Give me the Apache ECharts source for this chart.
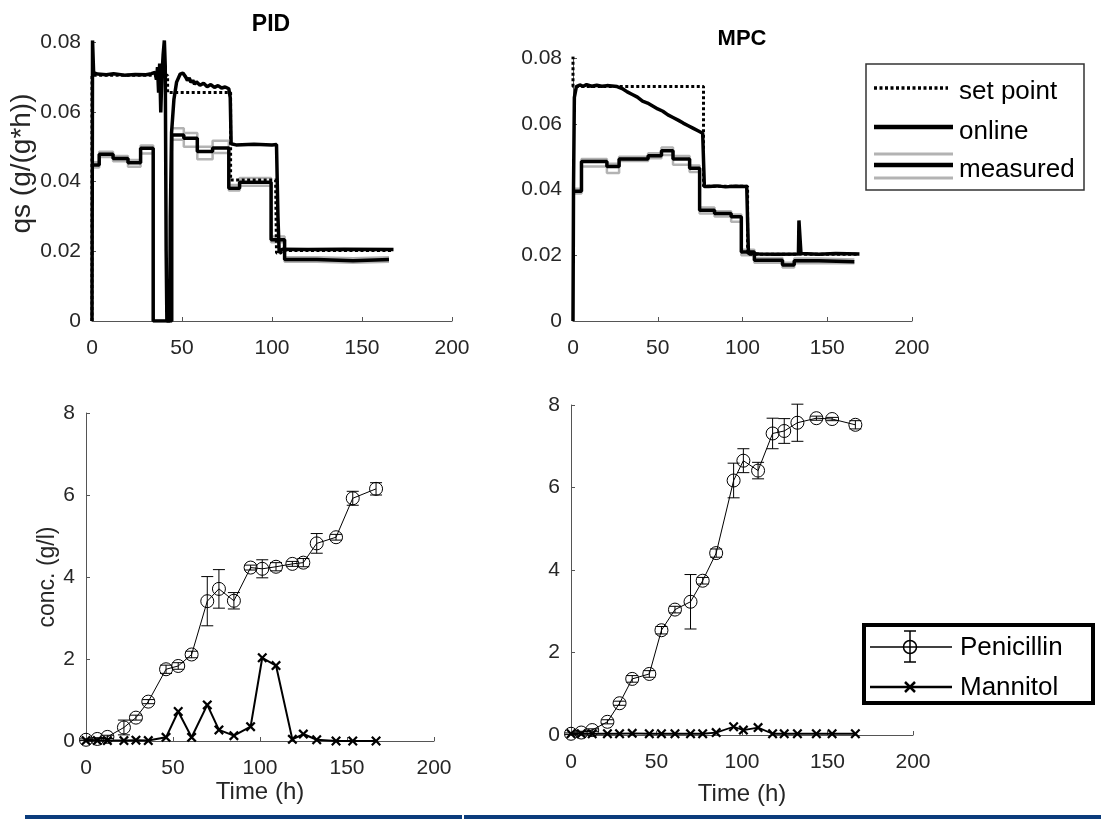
<!DOCTYPE html>
<html>
<head>
<meta charset="utf-8">
<script src="https://cdn.jsdelivr.net/npm/echarts@6/dist/echarts.min.js"></script>
<style>
  html, body { margin: 0; padding: 0; background: #fff; }
  #chart { width: 1101px; height: 819px; }
</style>
</head>
<body>
<div id="chart"></div>
<script>
// ---- top row: specific substrate uptake rate qs, [time h, value] ----
var pidSetPoint = [[0, 0], [0, 0.0705], [42, 0.0705], [42, 0.0655], [77, 0.0655], [77, 0.0404], [102, 0.0404], [102.5, 0.0195], [105, 0.0195], [105.5, 0.0202], [167, 0.0202]];
var pidOnline = [[0, 0], [0.3, 0.0805], [0.9, 0.0712], [3, 0.0708], [8, 0.0706], [12, 0.0709], [18, 0.0705], [24, 0.0707], [30, 0.0706], [33, 0.0709], [35, 0.0713], [35.8, 0.0692], [36.4, 0.0728], [37, 0.0655], [37.6, 0.0738], [38.2, 0.0598], [38.8, 0.0700], [39.5, 0.0762], [40.2, 0.0805], [40.7, 0.0730], [41.2, 0.0200], [41.6, 0], [43.2, 0], [43.5, 0.030], [44.2, 0.054], [45.5, 0.0635], [47, 0.0685], [49, 0.0708], [50.5, 0.0711], [52, 0.0700], [53, 0.0690], [54, 0.0697], [55, 0.0684], [56, 0.0690], [57, 0.0679], [58, 0.0686], [60, 0.0676], [62, 0.0682], [64, 0.0672], [66, 0.0678], [68, 0.0670], [70, 0.0675], [72, 0.0668], [74, 0.0671], [76, 0.0666], [76.8, 0.0640], [77.3, 0.0508], [80, 0.0505], [90, 0.0507], [100, 0.0505], [102.5, 0.0506], [103.3, 0.0300], [104, 0.0195], [105, 0.0190], [105.8, 0.0206], [120, 0.0205], [140, 0.0206], [167.5, 0.0205]];
var pidMeasured = [[0, 0.0447], [4, 0.0478], [11.7, 0.0466], [20, 0.0454], [27, 0.0495], [34, 0], [44.3, 0.0533], [51, 0.0524], [58.5, 0.0486], [67, 0.0496], [76, 0.0381], [82, 0.0398], [99.5, 0.0233], [107, 0.0176], [125, 0.0173], [145, 0.0176], [165, 0.0176]];
var pidMeasuredHi = [[0, 0.0455], [4, 0.0485], [11.7, 0.0473], [20, 0.0462], [27, 0.0503], [34, 0], [44.3, 0.0553], [51, 0.0539], [58.5, 0.0500], [67, 0.0517], [76, 0.0390], [82, 0.0410], [99.5, 0.0242], [107, 0.0183], [125, 0.0180], [145, 0.0183], [165, 0.0183]];
var pidMeasuredLo = [[0, 0.0440], [4, 0.0470], [11.7, 0.0458], [20, 0.0442], [27, 0.0480], [34, 0], [44.3, 0.0520], [51, 0.0500], [58.5, 0.0464], [67, 0.0482], [76, 0.0374], [82, 0.0388], [99.5, 0.0226], [107, 0.0170], [125, 0.0167], [145, 0.0170], [165, 0.0170]];

var mpcSetPoint = [[0, 0.0805], [0, 0.0713], [77, 0.0713], [77, 0.0410], [103, 0.0410], [103, 0.0203], [168, 0.0203]];
var mpcOnline = [[0, 0], [0.3, 0.040], [0.8, 0.068], [2, 0.0713], [4, 0.0718], [6, 0.0714], [8, 0.0719], [11, 0.0714], [14, 0.0717], [17, 0.0714], [20, 0.0716], [23, 0.0715], [26, 0.0713], [29, 0.0707], [32, 0.0697], [35, 0.0689], [38, 0.0681], [41, 0.0669], [44, 0.0663], [47, 0.0654], [50, 0.0645], [53, 0.0638], [56, 0.0627], [59, 0.0619], [62, 0.0611], [65, 0.0602], [68, 0.0594], [71, 0.0586], [74, 0.0578], [76.5, 0.0571], [77, 0.0565], [77.5, 0.0409], [80, 0.0409], [85, 0.0411], [90, 0.0408], [95, 0.0410], [102.5, 0.0409], [103.5, 0.0205], [110, 0.0204], [120, 0.0203], [133, 0.0204], [133.3, 0.0306], [134, 0.0300], [134.5, 0.0205], [145, 0.0203], [155, 0.0205], [169, 0.0204]];
var mpcMeasured = [[0, 0.0395], [5, 0.0485], [20, 0.0470], [27.2, 0.0493], [44.3, 0.0503], [52.2, 0.0518], [59, 0.0493], [68.8, 0.0465], [74.7, 0.0337], [83.5, 0.0327], [93.3, 0.0317], [99.3, 0.0210], [107, 0.0185], [123.6, 0.0170], [130.5, 0.0183], [145, 0.0180], [166, 0.0180]];
var mpcMeasuredHi = [[0, 0.0402], [5, 0.0493], [20, 0.0478], [27.2, 0.0500], [44.3, 0.0510], [52.2, 0.0528], [59, 0.0502], [68.8, 0.0473], [74.7, 0.0345], [83.5, 0.0334], [93.3, 0.0324], [99.3, 0.0217], [107, 0.0192], [123.6, 0.0177], [130.5, 0.0190], [145, 0.0187], [166, 0.0187]];
var mpcMeasuredLo = [[0, 0.0388], [5, 0.0470], [20, 0.0450], [27.2, 0.0487], [44.3, 0.0495], [52.2, 0.0505], [59, 0.0475], [68.8, 0.0453], [74.7, 0.0327], [83.5, 0.0318], [93.3, 0.0302], [99.3, 0.0200], [107, 0.0177], [123.6, 0.0163], [130.5, 0.0176], [145, 0.0176], [166, 0.0176]];

// ---- bottom row: concentrations (g/l) ----
var pidTime = [0, 6.5, 12.3, 21.8, 28.7, 35.8, 46, 53, 60.7, 69.7, 76.4, 85, 94.6, 101.3, 109.2, 118.6, 124.9, 132.6, 143.7, 153.3, 166.7];
var pidPenicillin = [0.03, 0.05, 0.1, 0.33, 0.57, 0.96, 1.75, 1.83, 2.11, 3.41, 3.71, 3.42, 4.23, 4.2, 4.25, 4.32, 4.35, 4.82, 4.97, 5.92, 6.15];
var pidPenicillinErr = [0.02, 0.03, 0.04, 0.18, 0.06, 0.05, 0.1, 0.08, 0.08, 0.6, 0.47, 0.2, 0.06, 0.22, 0.1, 0.06, 0.1, 0.24, 0.07, 0.17, 0.15];
var pidMannitol = [0.01, 0.01, 0.01, 0.01, 0.02, 0.01, 0.09, 0.72, 0.09, 0.88, 0.27, 0.13, 0.35, 2.03, 1.84, 0.04, 0.17, 0.03, 0.0, 0.0, 0.0];

var mpcTime = [0, 6, 12.4, 21.3, 28.4, 35.8, 45.8, 52.9, 60.8, 69.9, 77, 84.9, 95.1, 100.8, 109.4, 117.9, 124.7, 132.4, 143.5, 152.7, 166.3];
var mpcPenicillin = [0.03, 0.06, 0.12, 0.32, 0.77, 1.36, 1.48, 2.54, 3.04, 3.23, 3.74, 4.41, 6.17, 6.65, 6.41, 7.31, 7.37, 7.57, 7.68, 7.66, 7.52];
var mpcPenicillinErr = [0.02, 0.03, 0.03, 0.05, 0.05, 0.08, 0.08, 0.09, 0.08, 0.66, 0.08, 0.1, 0.42, 0.29, 0.2, 0.37, 0.3, 0.45, 0.05, 0.04, 0.1];
var mpcMannitol = [0.03, 0.03, 0.03, 0.03, 0.03, 0.04, 0.03, 0.03, 0.03, 0.03, 0.03, 0.06, 0.2, 0.12, 0.18, 0.03, 0.03, 0.03, 0.03, 0.03, 0.03];

var timeTicks = [0, 50, 100, 150, 200];

var FONT = 'Liberation Sans, Arial, sans-serif';
var TXT = '#262626';
var AX = '#555';
var CROSS = 'path://M0,1.6L1.6,0L5,3.4L8.4,0L10,1.6L6.6,5L10,8.4L8.4,10L5,6.6L1.6,10L0,8.4L3.4,5Z';

function xAx(grid, name, gap) {
  return {
    type: 'value', gridIndex: grid, min: timeTicks[0], max: timeTicks[timeTicks.length - 1], interval: 50,
    name: name || '', nameLocation: 'middle', nameGap: gap || 36,
    nameTextStyle: { color: TXT, fontFamily: FONT, fontSize: 24 },
    axisLine: { lineStyle: { color: AX, width: 1 } },
    axisTick: { inside: true, length: 4, lineStyle: { color: AX } },
    axisLabel: { color: TXT, fontFamily: FONT, fontSize: 21, margin: 17 },
    splitLine: { show: false }
  };
}
function yAx(grid, max, step, name, gap, size, pad) {
  return {
    type: 'value', gridIndex: grid, min: 0, max: max, interval: step,
    name: name || '', nameLocation: 'middle', nameGap: gap || 30,
    nameTextStyle: { color: TXT, fontFamily: FONT, fontSize: size || 22, padding: pad || 0 },
    axisLine: { show: true, lineStyle: { color: AX, width: 1 } },
    axisTick: { show: true, inside: true, length: 4, lineStyle: { color: AX } },
    axisLabel: { color: TXT, fontFamily: FONT, fontSize: 21, margin: 11 },
    splitLine: { show: false }
  };
}
function stepLine(i, data, color, width, z) {
  return { type: 'line', xAxisIndex: i, yAxisIndex: i, data: data, step: 'end', showSymbol: false,
    lineStyle: { color: color, width: width }, z: z, animation: false };
}
function plainLine(i, data, color, width, z, dash) {
  return { type: 'line', xAxisIndex: i, yAxisIndex: i, data: data, showSymbol: false,
    lineStyle: { color: color, width: width, type: dash || 'solid' }, z: z, animation: false };
}
function pairs(xs, ys) {
  return xs.map(function (x, k) { return [x, ys[k]]; });
}
function errRows(xs, ys, es) {
  return xs.map(function (x, k) { return [x, ys[k] - es[k], ys[k] + es[k]]; });
}
function errorBarItem(params, api) {
  var lo = api.coord([api.value(0), api.value(1)]);
  var hi = api.coord([api.value(0), api.value(2)]);
  var w = 6, st = { stroke: '#000', lineWidth: 1 };
  return { type: 'group', children: [
    { type: 'line', shape: { x1: hi[0], y1: hi[1], x2: lo[0], y2: lo[1] }, style: st },
    { type: 'line', shape: { x1: hi[0] - w, y1: hi[1], x2: hi[0] + w, y2: hi[1] }, style: st },
    { type: 'line', shape: { x1: lo[0] - w, y1: lo[1], x2: lo[0] + w, y2: lo[1] }, style: st }
  ] };
}
function concSeries(i, xs, pen, err, man, manWidth) {
  return [
    { type: 'custom', xAxisIndex: i, yAxisIndex: i, renderItem: errorBarItem,
      encode: { x: 0, y: [1, 2] }, data: errRows(xs, pen, err), z: 3, animation: false },
    { type: 'line', xAxisIndex: i, yAxisIndex: i, data: pairs(xs, pen), symbol: 'circle', symbolSize: 13,
      itemStyle: { color: 'rgba(0,0,0,0)', borderColor: '#000', borderWidth: 1 },
      lineStyle: { color: '#000', width: 1 }, z: 4, animation: false },
    { type: 'line', xAxisIndex: i, yAxisIndex: i, data: pairs(xs, man), symbol: CROSS, symbolSize: 10,
      itemStyle: { color: '#000' }, lineStyle: { color: '#000', width: manWidth }, z: 5, animation: false }
  ];
}

var chart = echarts.init(document.getElementById('chart'));
var option = {
  backgroundColor: '#fff',
  animation: false,
  grid: [
    { left: 92, right: 649, top: 42, bottom: 498 },
    { left: 573, right: 189, top: 58, bottom: 498 },
    { left: 86, right: 667, top: 413, bottom: 78 },
    { left: 571, right: 188, top: 405, bottom: 84 }
  ],
  xAxis: [xAx(0), xAx(1), xAx(2, 'Time (h)', 39), xAx(3, 'Time (h)', 47)],
  yAxis: [
    yAx(0, 0.08, 0.02, 'qs (g/(g*h))', 54, 28, [0, 0, 0, 36]),
    yAx(1, 0.08, 0.02),
    yAx(2, 8, 2, 'conc. (g/l)', 23, 23),
    yAx(3, 8, 2)
  ],
  series: [
    stepLine(0, pidMeasuredHi, '#b3b3b3', 2.5, 1),
    stepLine(0, pidMeasuredLo, '#b3b3b3', 2.5, 1),
    stepLine(0, pidMeasured, '#000', 3.5, 2),
    plainLine(0, pidSetPoint, '#000', 3, 3, [3, 2.5]),
    plainLine(0, pidOnline, '#000', 3.5, 4),
    stepLine(1, mpcMeasuredHi, '#b3b3b3', 2.5, 1),
    stepLine(1, mpcMeasuredLo, '#b3b3b3', 2.5, 1),
    stepLine(1, mpcMeasured, '#000', 3.5, 2),
    plainLine(1, mpcSetPoint, '#000', 3, 3, [3, 2.5]),
    plainLine(1, mpcOnline, '#000', 3.5, 4)
  ].concat(concSeries(2, pidTime, pidPenicillin, pidPenicillinErr, pidMannitol, 2))
   .concat(concSeries(3, mpcTime, mpcPenicillin, mpcPenicillinErr, mpcMannitol, 1.8)),
  graphic: [
    { type: 'text', x: 271, y: 25, style: { text: 'PID', fill: '#000', font: 'bold 23px ' + FONT, align: 'center', verticalAlign: 'middle' } },
    { type: 'text', x: 742, y: 39, style: { text: 'MPC', fill: '#000', font: 'bold 22px ' + FONT, align: 'center', verticalAlign: 'middle' } },
    // legend top right
    { type: 'rect', shape: { x: 866, y: 64, width: 218, height: 126 }, style: { fill: '#fff', stroke: '#333', lineWidth: 1.5 }, z: 20 },
    { type: 'line', shape: { x1: 874, y1: 88, x2: 948, y2: 88 }, style: { stroke: '#000', lineWidth: 3.5, lineDash: [3, 2.5] }, z: 21 },
    { type: 'text', x: 959, y: 92, style: { text: 'set point', fill: '#000', font: '26px ' + FONT, verticalAlign: 'middle' }, z: 21 },
    { type: 'line', shape: { x1: 874, y1: 127, x2: 953, y2: 127 }, style: { stroke: '#000', lineWidth: 4.5 }, z: 21 },
    { type: 'text', x: 959, y: 132, style: { text: 'online', fill: '#000', font: '26px ' + FONT, verticalAlign: 'middle' }, z: 21 },
    { type: 'line', shape: { x1: 874, y1: 154, x2: 953, y2: 154 }, style: { stroke: '#b3b3b3', lineWidth: 3 }, z: 21 },
    { type: 'line', shape: { x1: 874, y1: 165, x2: 953, y2: 165 }, style: { stroke: '#000', lineWidth: 4.5 }, z: 21 },
    { type: 'line', shape: { x1: 874, y1: 178, x2: 953, y2: 178 }, style: { stroke: '#b3b3b3', lineWidth: 3 }, z: 21 },
    { type: 'text', x: 959, y: 170, style: { text: 'measured', fill: '#000', font: '26px ' + FONT, verticalAlign: 'middle' }, z: 21 },
    // legend bottom right
    { type: 'rect', shape: { x: 864, y: 625, width: 229, height: 78 }, style: { fill: '#fff', stroke: '#000', lineWidth: 4 }, z: 20 },
    { type: 'line', shape: { x1: 870, y1: 647, x2: 952, y2: 647 }, style: { stroke: '#000', lineWidth: 1.5 }, z: 21 },
    { type: 'line', shape: { x1: 910, y1: 631, x2: 910, y2: 662 }, style: { stroke: '#000', lineWidth: 1.5 }, z: 21 },
    { type: 'line', shape: { x1: 904, y1: 631, x2: 916, y2: 631 }, style: { stroke: '#000', lineWidth: 1.5 }, z: 21 },
    { type: 'line', shape: { x1: 904, y1: 662, x2: 916, y2: 662 }, style: { stroke: '#000', lineWidth: 1.5 }, z: 21 },
    { type: 'circle', shape: { cx: 910, cy: 647, r: 6.5 }, style: { fill: 'none', stroke: '#000', lineWidth: 1.5 }, z: 21 },
    { type: 'text', x: 960, y: 648, style: { text: 'Penicillin', fill: '#000', font: '26px ' + FONT, verticalAlign: 'middle' }, z: 21 },
    { type: 'line', shape: { x1: 870, y1: 687, x2: 952, y2: 687 }, style: { stroke: '#000', lineWidth: 2.5 }, z: 21 },
    { type: 'line', shape: { x1: 905, y1: 682, x2: 915, y2: 692 }, style: { stroke: '#000', lineWidth: 2.5 }, z: 21 },
    { type: 'line', shape: { x1: 915, y1: 682, x2: 905, y2: 692 }, style: { stroke: '#000', lineWidth: 2.5 }, z: 21 },
    { type: 'text', x: 960, y: 688, style: { text: 'Mannitol', fill: '#000', font: '26px ' + FONT, verticalAlign: 'middle' }, z: 21 },
    // blue strip along the bottom edge
    { type: 'rect', shape: { x: 25, y: 815, width: 437, height: 4 }, style: { fill: '#0b3c7c' } },
    { type: 'rect', shape: { x: 464, y: 815, width: 637, height: 4 }, style: { fill: '#0b3c7c' } }
  ]
};
chart.setOption(option);
</script>
</body>
</html>
